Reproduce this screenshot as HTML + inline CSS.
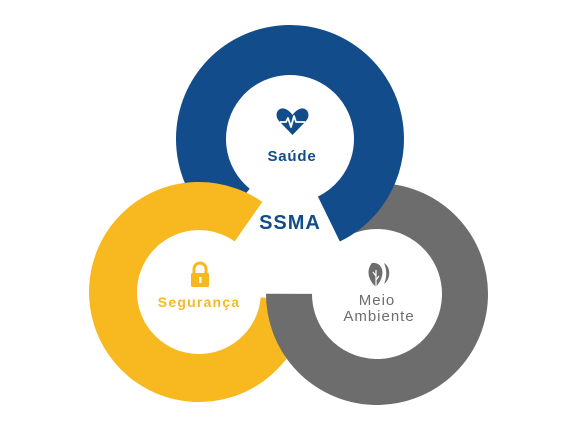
<!DOCTYPE html>
<html><head><meta charset="utf-8"><style>
html,body{margin:0;padding:0;background:#fff;}
svg{display:block;}
text{font-family:"Liberation Sans",sans-serif;}
</style></head><body>
<svg width="577" height="433" viewBox="0 0 577 433">
<rect width="577" height="433" fill="#fff"/>
<!-- yellow -->
<circle cx="199" cy="292" r="86" fill="none" stroke="#f8b920" stroke-width="48" stroke-dasharray="450.3 1000" transform="rotate(5 199 292)"/>
<!-- grey -->
<circle cx="377" cy="294" r="88" fill="none" stroke="#6d6d6d" stroke-width="46" stroke-dasharray="445.4 1000" transform="rotate(250 377 294)"/>
<!-- blue -->
<circle cx="290" cy="139" r="89" fill="none" stroke="#124c8a" stroke-width="50" stroke-dasharray="458.2 1000" transform="rotate(129 290 139)"/>
<!-- yellow overlay -->
<circle cx="199" cy="292" r="86" fill="none" stroke="#f8b920" stroke-width="48" stroke-dasharray="157.6 1000" transform="rotate(200 199 292)"/>

<!-- heart icon -->
<path d="M292.5 135 L279 121 C273 114 279 106 285.5 109 C289 110.5 291 113 292.5 115 C294 113 296 110.5 299.5 109 C306 106 312 114 306 121 Z" fill="#124c8a"/>
<polyline points="280,122 286,122 288,118 291,127 294,116 296,122 305,122" fill="none" stroke="#fff" stroke-width="1.8" stroke-linejoin="round"/>
<text x="292" y="161" font-size="15" fill="#124c8a" text-anchor="middle" font-weight="bold" letter-spacing="0.8">Saúde</text>
<text x="290" y="229" font-size="20" fill="#124c8a" text-anchor="middle" font-weight="bold" letter-spacing="1">SSMA</text>

<!-- lock -->
<path d="M194 274 V269 A6 6 0 0 1 206 269 V274" fill="none" stroke="#f8b920" stroke-width="3"/>
<rect x="191" y="273" width="18" height="14" rx="1.5" fill="#f8b920"/>
<rect x="199" y="277" width="2.5" height="6" fill="#fff"/>
<text x="199" y="307" font-size="14" fill="#f8b920" text-anchor="middle" font-weight="bold" letter-spacing="1.2">Segurança</text>

<!-- leaf -->
<path d="M376 287 C368 280 366 270 372 263 C379 262 384 268 382 276 C381 281 378 284 376 287 Z" fill="#6d6d6d"/>
<path d="M384 263 C391 267 391 279 384 284 C387 277 387 270 384 263 Z" fill="#6d6d6d"/>
<path d="M376 288 L376 270 M376 276 L373 272 M376 280 L379 276" stroke="#fff" stroke-width="1.2" fill="none"/>
<text x="377" y="305" font-size="15" fill="#6d6d6d" text-anchor="middle" letter-spacing="1">Meio</text>
<text x="379" y="321" font-size="15" fill="#6d6d6d" text-anchor="middle" letter-spacing="1">Ambiente</text>
</svg>
</body></html>
